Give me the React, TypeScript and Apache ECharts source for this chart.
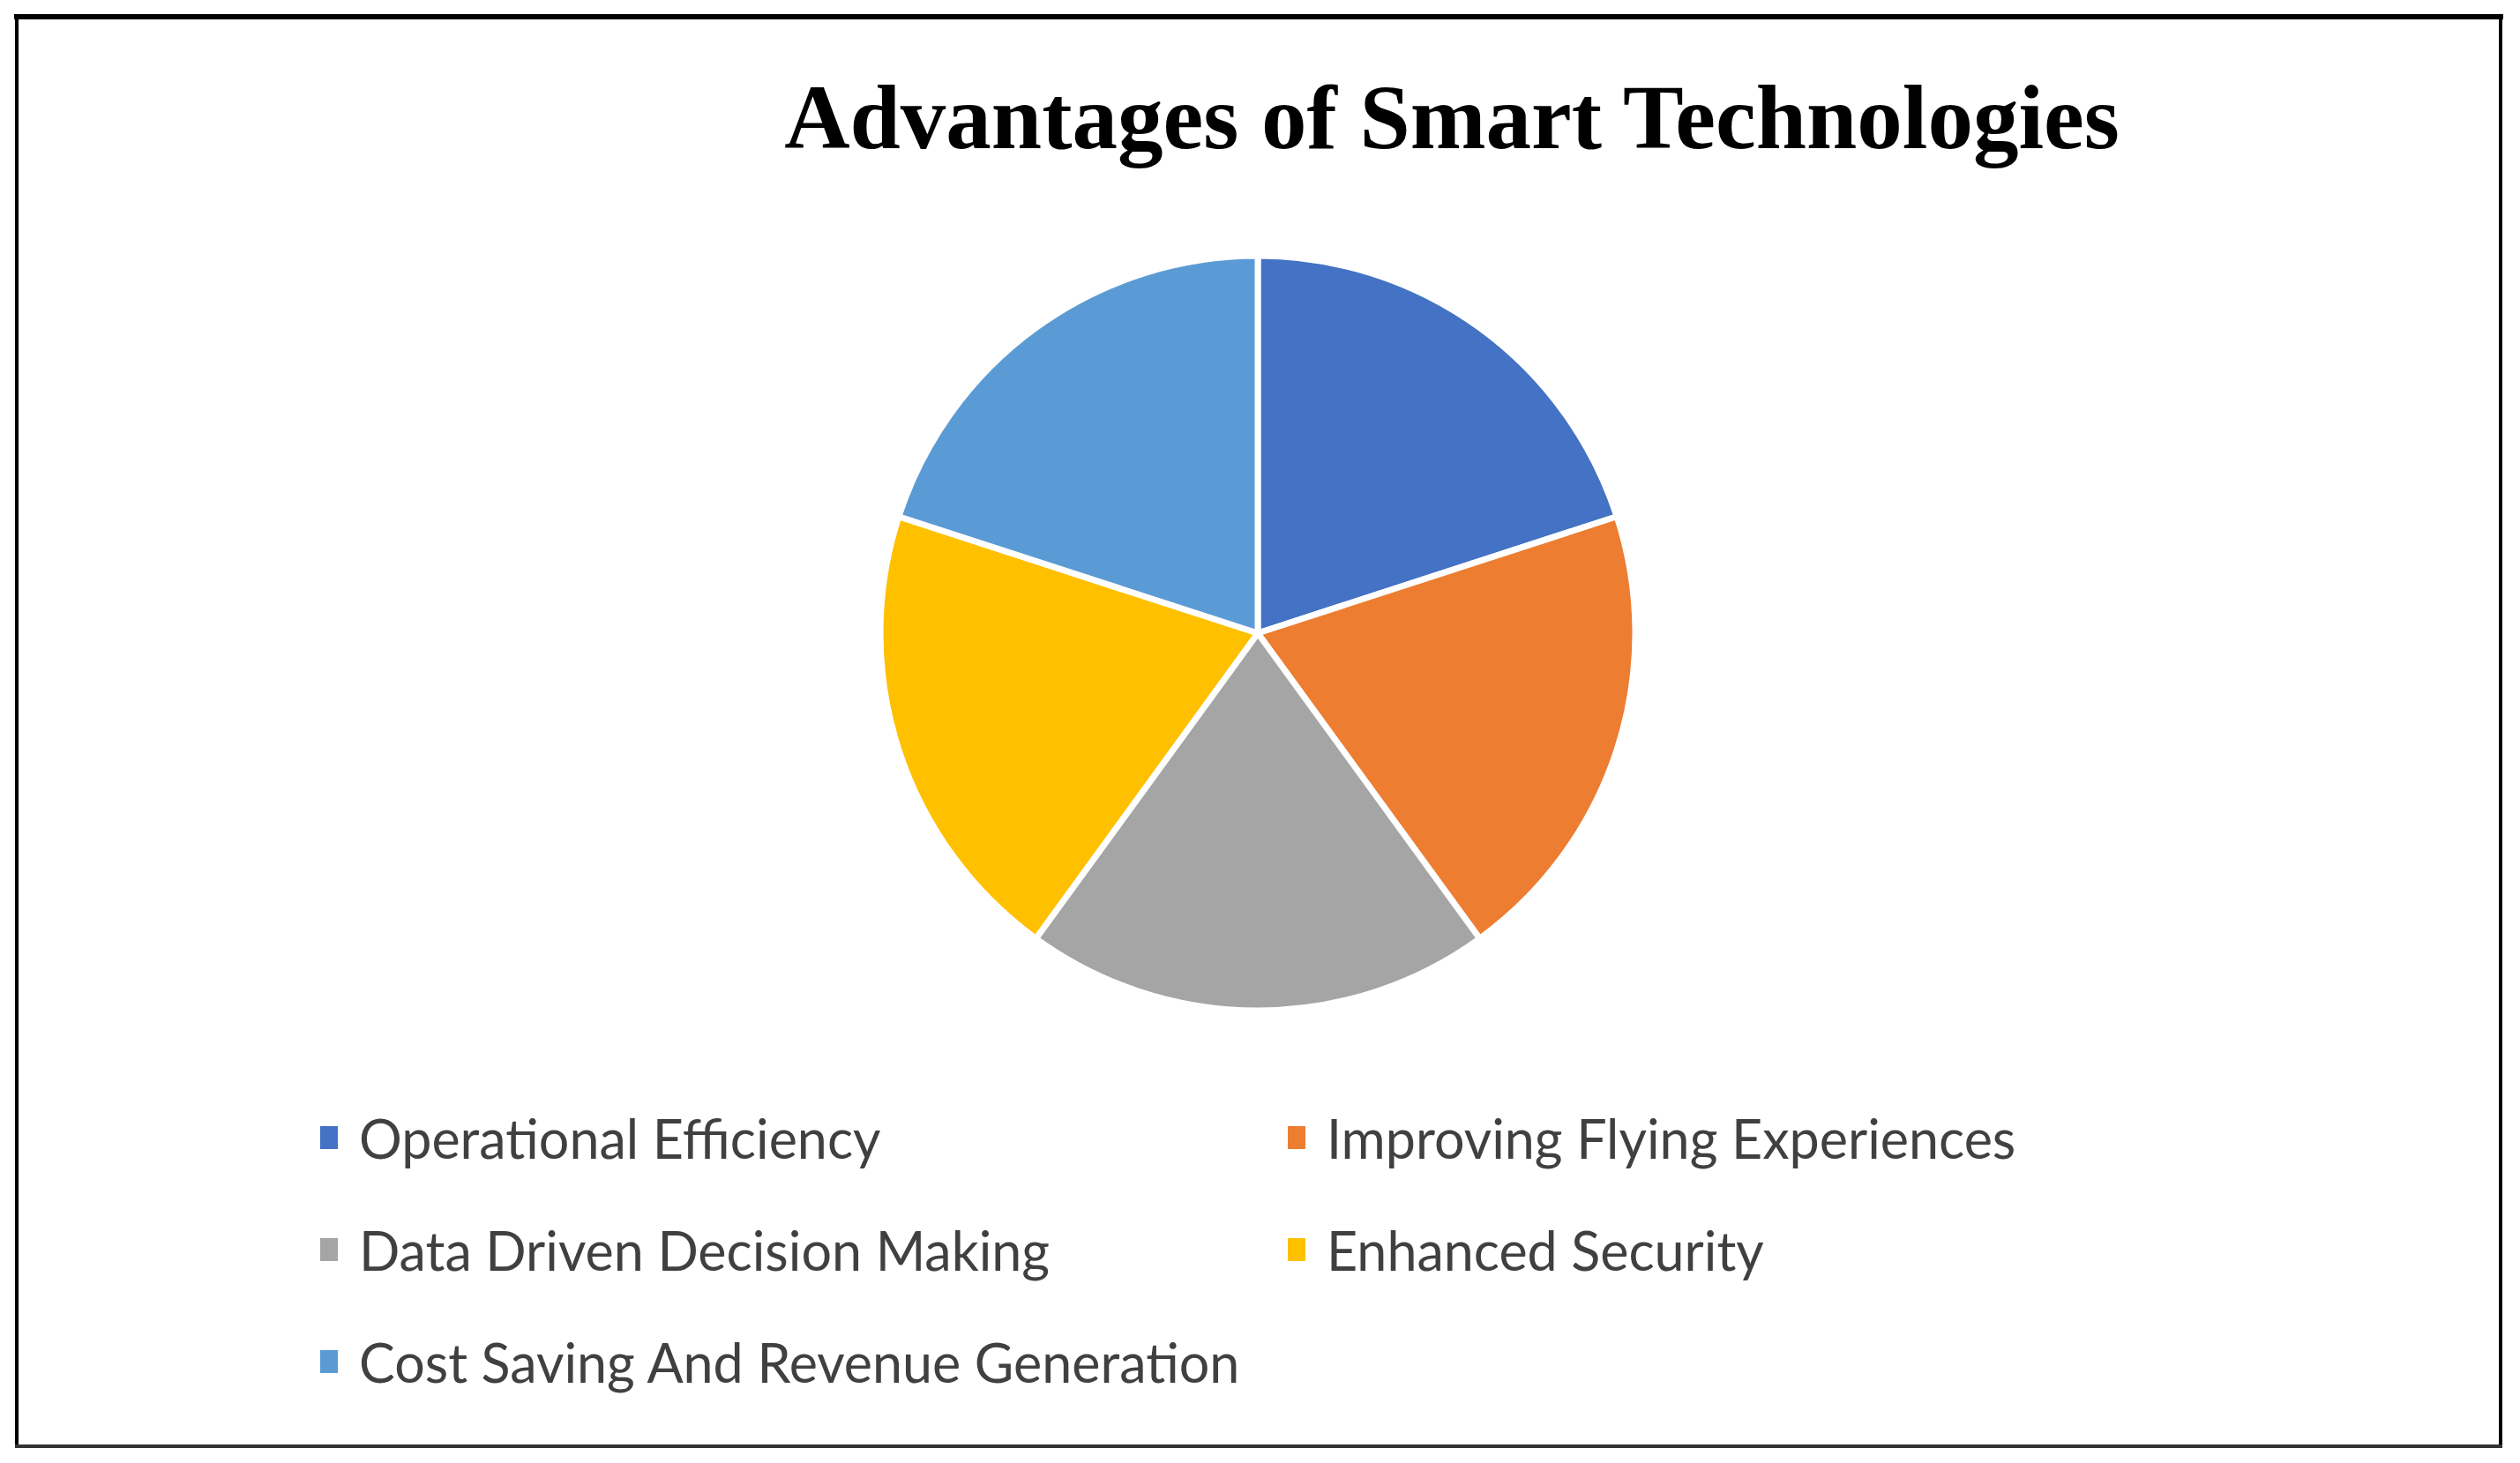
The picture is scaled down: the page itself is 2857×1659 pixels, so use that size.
import React, { useEffect, useRef } from "react";
import * as echarts from "echarts";

const categories = [
  "Operational Efficiency",
  "Improving Flying Experiences",
  "Data Driven Decision Making",
  "Enhanced Security",
  "Cost Saving And Revenue Generation",
];
const values = [20, 20, 20, 20, 20];
const colors = ["#4472C4", "#ED7D31", "#A5A5A5", "#FFC000", "#5B9BD5"];
const legendCol1 = [categories[0], categories[2], categories[4]];
const legendCol2 = [categories[1], categories[3]];
const titleText = "Advantages of Smart Technologies";

const legendText = {
  fontFamily: "Lato, 'Open Sans', sans-serif",
  fontSize: 61,
  lineHeight: 64,
  color: "#404040",
  padding: [0, 0, 0, 18],
};

const legendBase = {
  orient: "vertical",
  top: 1258,
  padding: 0,
  itemWidth: 22,
  itemHeight: 28,
  itemGap: 63,
  icon: "rect",
  selectedMode: false,
  textStyle: legendText,
};

export default function App() {
  const ref = useRef<HTMLDivElement>(null);
  useEffect(() => {
    if (!ref.current) return;
    const chart = echarts.init(ref.current, null, { renderer: "svg" });
    chart.setOption({
      animation: false,
      backgroundColor: "#ffffff",
      color: colors,
      title: {
        text: titleText,
        left: 1646,
        top: 81,
        textAlign: "center",
        padding: 0,
        textStyle: {
          fontFamily: "'Liberation Serif', 'Times New Roman', serif",
          fontWeight: "bold",
          fontSize: 103,
          lineHeight: 103,
          color: "#000000",
        },
      },
      legend: [
        { ...legendBase, data: legendCol1, left: 361 },
        { ...legendBase, data: legendCol2, left: 1458 },
      ],
      graphic: [
        {
          type: "line",
          shape: { x1: 16, y1: 19, x2: 2838, y2: 19 },
          style: { stroke: "#000000", lineWidth: 6 },
          silent: true,
        },
        {
          type: "line",
          shape: { x1: 19, y1: 16, x2: 19, y2: 1642 },
          style: { stroke: "#000000", lineWidth: 4 },
          silent: true,
        },
        {
          type: "line",
          shape: { x1: 2835, y1: 16, x2: 2835, y2: 1642 },
          style: { stroke: "#000000", lineWidth: 4 },
          silent: true,
        },
        {
          type: "line",
          shape: { x1: 17, y1: 1640, x2: 2837, y2: 1640 },
          style: { stroke: "#333333", lineWidth: 4 },
          silent: true,
        },
      ],
      series: [
        {
          type: "pie",
          center: [1426, 718],
          radius: 428,
          startAngle: 90,
          clockwise: true,
          label: { show: false },
          labelLine: { show: false },
          itemStyle: { borderColor: "#ffffff", borderWidth: 7 },
          emphasis: { disabled: true },
          data: categories.map((name, i) => ({ name, value: values[i] })),
        },
      ],
    });
    return () => chart.dispose();
  }, []);
  return (
    <div
      ref={ref}
      style={{ position: "fixed", left: 0, top: 0, width: 2857, height: 1659 }}
    />
  );
}
